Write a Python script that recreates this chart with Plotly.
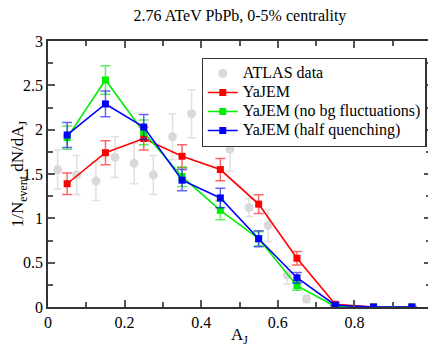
import plotly.graph_objects as go

# ATLAS data (gray points)
atlas_x = [0.025, 0.075, 0.125, 0.175, 0.225, 0.275, 0.325, 0.375, 0.475, 0.525, 0.575, 0.625, 0.675]
atlas_y = [1.55, 1.49, 1.42, 1.69, 1.62, 1.49, 1.92, 2.18, 1.78, 1.12, 0.92, 0.36, 0.09]
atlas_err = [0.22, 0.22, 0.22, 0.23, 0.23, 0.22, 0.26, 0.27, 0.25, 0.10, 0.18, 0.10, 0.04]

# YaJEM curves
aj_bins = [0.05, 0.15, 0.25, 0.35, 0.45, 0.55, 0.65, 0.75, 0.85, 0.95]
yajem = [1.39, 1.74, 1.90, 1.70, 1.55, 1.16, 0.55, 0.03, 0.0, 0.0]
yajem_err = [0.12, 0.135, 0.13, 0.13, 0.125, 0.105, 0.075, 0.02, 0.0, 0.0]
yajem_nobg = [1.91, 2.56, 1.97, 1.47, 1.09, 0.77, 0.24, 0.005, 0.0, 0.0]
yajem_nobg_err = [0.13, 0.16, 0.14, 0.11, 0.105, 0.08, 0.05, 0.0, 0.0, 0.0]
yajem_half = [1.94, 2.29, 2.03, 1.43, 1.23, 0.77, 0.33, 0.02, 0.0, 0.0]
yajem_half_err = [0.14, 0.145, 0.14, 0.12, 0.11, 0.09, 0.06, 0.0, 0.0, 0.0]

serif = "'Times New Roman', 'Liberation Serif', 'DejaVu Serif', serif"

def leg(name):
    # bigger text than the legend's own font, so rows stay tight
    return '<span style="font-size:16px">' + name + '</span>'

fig = go.Figure()
fig.add_trace(go.Scatter(
    x=atlas_x, y=atlas_y, mode="markers", name=leg("ATLAS data"),
    marker=dict(color="#d9d9d9", size=9, symbol="circle"),
    error_y=dict(type="data", array=atlas_err, color="#e0e0e0", thickness=1.5, width=4),
))

def add_model(y, err, color, errcolor, name):
    fig.add_trace(go.Scatter(
        x=aj_bins, y=y, mode="lines+markers", name=leg(name),
        line=dict(color=color, width=1.6),
        marker=dict(color=color, size=7, symbol="square"),
        error_y=dict(type="data", array=err, color=errcolor, thickness=1.5, width=5),
    ))

add_model(yajem_nobg, yajem_nobg_err, "#00ee00", "rgba(0,220,0,0.6)", "YaJEM (no bg fluctuations)")
add_model(yajem_half, yajem_half_err, "#0000ff", "rgba(0,0,255,0.6)", "YaJEM (half quenching)")
add_model(yajem, yajem_err, "#ff0000", "rgba(255,0,0,0.6)", "YaJEM")

# reorder legend to match the reference
fig.data = (fig.data[0], fig.data[3], fig.data[1], fig.data[2])

axis_common = dict(
    showline=True, linecolor="#333", linewidth=1.5, mirror="ticks",
    ticks="inside", ticklen=7, tickcolor="#555", tickwidth=1.5,
    showgrid=False, zeroline=False, automargin=False,
    tickfont=dict(family=serif, size=16, color="black"),
)

fig.update_xaxes(
    range=[0, 1], dtick=0.2,
    minor=dict(dtick=0.1, ticks="inside", ticklen=5, tickcolor="#555"),
    title=dict(text="A<sub>J</sub>", font=dict(family=serif, size=17, color="black"), standoff=2),
    **axis_common,
)
fig.update_yaxes(
    range=[0, 3], dtick=0.5,
    minor=dict(dtick=0.25, ticks="inside", ticklen=5, tickcolor="#555"),
    title=dict(text="1/N<sub>event</sub> dN/dA<sub>J</sub>", font=dict(family=serif, size=17, color="black"), standoff=6),
    **axis_common,
)

# page body adds an 8px offset, so the figure is sized to fit the window
fig.update_layout(
    width=428, height=339,
    margin=dict(l=40, r=5, t=33, b=40),
    paper_bgcolor="white", plot_bgcolor="white",
    title=dict(text="2.76 ATeV PbPb, 0-5% centrality", x=0.542, xanchor="center", y=0.977, yanchor="middle",
               font=dict(family=serif, size=16, color="black")),
    showlegend=True,
    legend=dict(
        x=0.401, y=0.937, xanchor="left", yanchor="top",
        bgcolor="white", bordercolor="#333", borderwidth=1.2,
        font=dict(family=serif, size=11, color="black"),
        tracegroupgap=0, itemwidth=30,
    ),
)

fig.write_html("out.html")
